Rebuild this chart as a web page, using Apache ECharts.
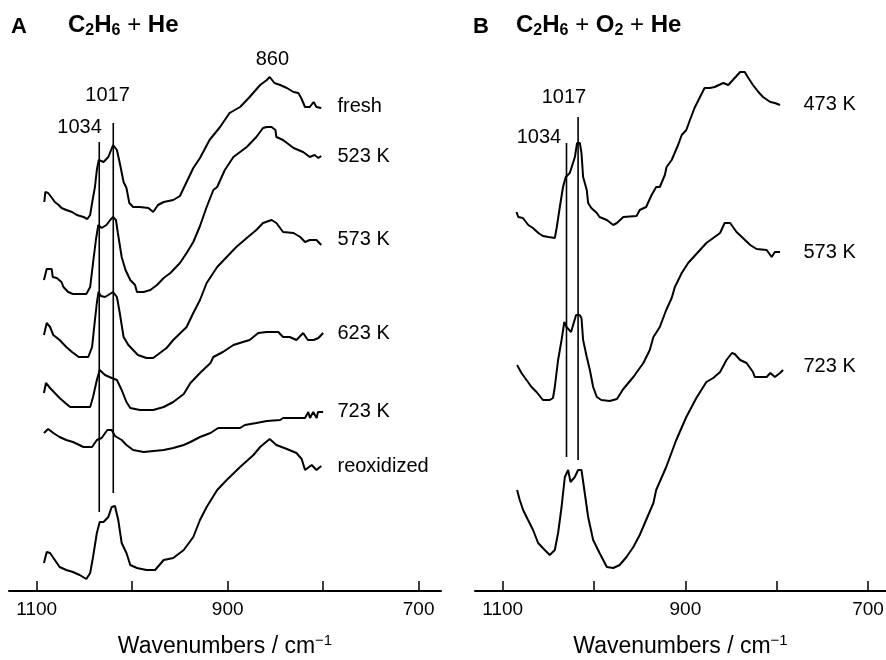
<!DOCTYPE html>
<html>
<head>
<meta charset="utf-8">
<script src="https://cdn.jsdelivr.net/npm/echarts@6/dist/echarts.min.js"></script>
<style>html,body{margin:0;padding:0;background:#fff}#c{width:886px;height:660px}</style>
</head>
<body>
<div id="c"></div>
<script>
// ---------- Panel A: C2H6 + He ----------
const freshW = [1092,1091,1088,1084,1081,1077,1074,1069,1063,1058,1051,1047,1044,1042,1039,1037,1035,1030,1025,1020,1016,1013,1009,1006,1003,999,992,983,978,973,967,957,950,943,936,929,919,908,898,887,877,866,859,856,851,845,838,831,826,823,819,814,810,807,802];
const freshA = [389,399,398,393,389,386,383,381,379,376,374,372,376,388,404,421,431,429,434,446,441,428,409,403,388,384,384,383,379,386,389,391,395,409,423,433,451,464,478,484,494,506,511,514,508,506,503,499,498,493,484,484,489,484,483];

const k523W = [1092.4,1089.5,1084.3,1083.2,1079,1074,1072,1067,1062,1048,1044,1041,1038,1035.5,1032,1027,1023,1020,1017,1015,1011,1007,1002,997,995,988,981,974,967,960,950,943,936,929,922,915,911,903,894,880,870,863,859,854,850,849,842,831,821,814,809,805,802];
const k523A = [311,322,322,314,313,309,304,299,297,297,304,328,351,366,363,366,371,374,371,358,334,321,311,306,299,299,301,306,313,318,328,338,349,365,384,401,404,421,434,444,454,463,464,464,461,454,451,443,439,434,436,433,435];

const k573W = [1092.4,1089.5,1086,1082.6,1076,1069,1063,1056,1046,1042,1039,1037,1035.3,1032.7,1028.5,1025,1020,1016,1013,1009,1004,999,994,985,978,971,964,957,943,936,929,922,911,901,891,880,870,863,854,849,842,831,824,819,814,807,802];
const k573A = [256,268,264,256,251,244,239,234,234,244,271,288,299,295,294,296,299,294,278,254,246,241,236,233,233,238,243,251,264,278,291,308,324,334,344,353,361,368,371,368,359,358,354,349,351,351,346];

const k623W = [1092.4,1090.3,1086,1081,1076,1070,1065,1044,1041,1037,1034,1028.5,1021.5,1016,1011,1006,1002,992,978,967,957,946,939,929,918,915,905,894,884,877,868,859,847,842,835,828,821,816,810,805,800];
const k623A = [198,208,203,198,193,188,184,184,194,211,221,216,213,211,201,189,183,181,181,184,189,197,208,218,228,234,239,246,249,251,258,259,259,254,254,251,258,251,251,253,258];

const k723W = [1092.4,1088,1082.6,1076,1069,1062,1051,1042,1037,1032,1026,1021.5,1018,1011,1006,999,988,967,957,946,939,929,918,910,887,882,870,859,845,842,819,815.6,813.8,810.4,806.8,805.4,800];
const k723A = [158,162,158,154,151,149,144,144,151,153,161,161,155,151,146,141,139,141,143,146,149,154,158,163,163,166,168,170,171,173,173,179,173,179,173,179,179];

const reoxW = [1092.4,1089.5,1086,1081,1076,1069,1062,1055,1048,1044,1041,1037,1034,1030,1025,1021.5,1018,1014.6,1011,1006,1002,995,985,976,967,957,946,936,929,922,911,901,887,873,866,856,849,838,828,822.5,819,812,807,802];
const reoxA = [28,39,38,31,24,21,19,16,12,18,34,58,69,69,74,84,85,71,48,38,26,23,21,21,31,33,41,54,71,84,101,111,124,136,144,152,146,142,138,132,121,126,121,125];

// ---------- Panel B: C2H6 + O2 + He ----------
const b473W = [1085,1083,1078,1072,1067,1061,1056,1050,1043,1041,1037.5,1034,1031,1026.6,1021,1018.6,1015.6,1013.8,1012,1008,1006.5,1003,997,994,986,979,975,968,953.5,950,943,937,932,928,922.5,920.6,915,908,904,899,895,890,884,879,873,868,858.5,853,848,840,835,831,826,820,815,807,802,796.4];
const b473A = [379,374,373,366,363,358,355,354,353,363,384,404,414,418,434,448,448,438,414,401,388,383,378,374,371,366,368,374,375,381,384,396,404,404,416,424,431,446,456,461,471,483,494,503,503,504,508,506,511,519,519,513,506,499,494,489,488,486];

const b573W = [1084.3,1079.5,1074,1068.5,1063,1056,1048.5,1045,1043,1039.4,1035.6,1032.6,1030.2,1025.2,1019.7,1015.9,1013.8,1012,1008,1004.6,1001,997,992,983,975,968,957,946,939,935,928,921,915,911.5,904,897,891,884,877,869.5,862,857,851,844,837,829,822,811,805.5,802,796.4];
const b573A = [226,218,211,204,199,191,191,193,204,231,251,269,264,259,276,276,273,251,234,221,204,194,191,190,192,202,214,228,241,254,264,281,293,304,318,328,334,341,348,353,358,368,368,359,353,346,342,341,334,339,339];

const b723W = [1084.3,1081.4,1077.7,1072.3,1066.8,1061.3,1054,1048.5,1043,1039.4,1035.6,1032,1028.4,1025.8,1021.1,1017.5,1013.8,1010.2,1006.5,1001,994,986,979,972,964.5,957,950,943,935,932,921,910,899,888,877,869.5,862,855,849,846,840,833,826,824,811,807,802,796.4,793];
const b723A = [101,91,81,71,61,48,41,36,41,58,84,114,121,109,114,121,121,98,74,51,38,24,23,26,34,44,56,71,88,101,124,151,174,193,209,213,219,231,238,237,231,228,219,214,214,218,214,218,221];

// curve names and label anchors
const leftNames = ['fresh','523 K','573 K','623 K','723 K','reoxidized'];
const leftNameW = [784.5, 784.5, 784.5, 784.5, 784.5, 784.5];
const leftNameA = [484, 434, 351, 257, 179, 124];
const rightNames = ['473 K','573 K','723 K'];
const rightNameW = [770.1, 770.1, 770.1];
const rightNameA = [486, 338, 224];

// peak marker lines (wavenumber, top, bottom)
const leftPeakW = [1034.5, 1019.8];
const leftPeakTop = [449, 468];
const leftPeakBottom = [79, 98];
const rightPeakW = [1030.2, 1017.5];
const rightPeakTop = [448, 474];
const rightPeakBottom = [134, 131];

// peak annotation texts
const leftAnnotText = ['860','1017','1034'];
const leftAnnotW = [852.6, 1025.3, 1054.6];
const leftAnnotA = [531, 495, 463];
const rightAnnotText = ['1017','1034'];
const rightAnnotW = [1032.4, 1059.8];
const rightAnnotA = [493, 453];

// axis ticks
const tickValues = [1100, 1000, 900, 800, 700];
const labelValues = [1100, 900, 700];

const FONT = '"Liberation Sans", Arial, Helvetica, sans-serif';

function zip(w, a) { return w.map((x, i) => [x, a[i]]); }

const leftCurves = [[freshW, freshA],[k523W,k523A],[k573W,k573A],[k623W,k623A],[k723W,k723A],[reoxW,reoxA]];
const rightCurves = [[b473W,b473A],[b573W,b573A],[b723W,b723A]];

const series = [];
function addCurve(wa, idx) {
  series.push({
    type: 'line', xAxisIndex: idx, yAxisIndex: idx,
    data: zip(wa[0], wa[1]), showSymbol: false, symbol: 'none', silent: true,
    lineStyle: { color: '#000', width: 2 }
  });
}
leftCurves.forEach(c => addCurve(c, 0));
rightCurves.forEach(c => addCurve(c, 1));

function addPeakLines(ws, tops, bots, idx) {
  ws.forEach((w, i) => {
    series.push({
      type: 'line', xAxisIndex: idx, yAxisIndex: idx, showSymbol: false, symbol: 'none', silent: true,
      data: [[w, tops[i]], [w, bots[i]]], lineStyle: { color: '#000', width: 1.6 }
    });
  });
}
addPeakLines(leftPeakW, leftPeakTop, leftPeakBottom, 0);
addPeakLines(rightPeakW, rightPeakTop, rightPeakBottom, 1);

function addText(texts, ws, as, idx, align) {
  series.push({
    type: 'scatter', xAxisIndex: idx, yAxisIndex: idx, symbolSize: 1, silent: true,
    itemStyle: { color: 'rgba(255,255,255,0)' },
    data: texts.map((t, i) => ({ value: [ws[i], as[i]], name: t })),
    label: { show: true, position: [0, 0], align: align, verticalAlign: 'middle',
      formatter: p => p.name, color: '#000', fontSize: 20, fontFamily: FONT, textBorderWidth: 0, opacity: 1 }
  });
}
addText(leftAnnotText, leftAnnotW, leftAnnotA, 0, 'center');
addText(rightAnnotText, rightAnnotW, rightAnnotA, 1, 'center');
addText(leftNames, leftNameW, leftNameA, 0, 'left');
addText(rightNames, rightNameW, rightNameA, 1, 'left');

function xAxisCfg(idx, min, max) {
  return {
    type: 'value', gridIndex: idx, min: min, max: max, inverse: true,
    axisLine: { show: true, lineStyle: { color: '#000', width: 2 } },
    axisTick: { show: true, inside: true, length: 10, customValues: tickValues, lineStyle: { color: '#000', width: 1.5 } },
    axisLabel: { show: true, customValues: labelValues, formatter: v => String(v), color: '#000', fontSize: 19, fontFamily: FONT, margin: 9 },
    splitLine: { show: false },
    name: 'Wavenumbers / cm{sup|−1}', nameLocation: 'middle', nameGap: 42,
    nameTextStyle: { color: '#000', fontSize: 23, fontFamily: FONT, lineHeight: 28,
      rich: { sup: { fontSize: 15, fontFamily: FONT, color: '#000', verticalAlign: 'top', lineHeight: 12 } } }
  };
}

const richTitle = {
  b: { fontSize: 24, fontWeight: 'bold', fontFamily: FONT, color: '#000', lineHeight: 28 },
  s: { fontSize: 16, fontWeight: 'bold', fontFamily: FONT, color: '#000', lineHeight: 11, verticalAlign: 'bottom' },
  p: { fontSize: 24, fontFamily: FONT, color: '#000', lineHeight: 28 }
};

const option = {
  animation: false,
  backgroundColor: '#fff',
  grid: [
    { left: 9, width: 432, top: 0, height: 591, outerBoundsMode: 'none', containLabel: false },
    { left: 475, width: 411, top: 0, height: 591, outerBoundsMode: 'none', containLabel: false }
  ],
  xAxis: [ xAxisCfg(0, 676.6, 1129), xAxisCfg(1, 680.3, 1130.4) ],
  yAxis: [
    { type: 'value', gridIndex: 0, min: 0, max: 591, show: false },
    { type: 'value', gridIndex: 1, min: 0, max: 591, show: false }
  ],
  graphic: [
    { type: 'text', left: 11, top: 16, style: { text: 'A', font: 'bold 22px ' + FONT, fill: '#000' } },
    { type: 'text', left: 68, top: 13, style: { text: '{b|C}{s|2}{b|H}{s|6}{p| + }{b|He}', rich: richTitle } },
    { type: 'text', left: 473, top: 16, style: { text: 'B', font: 'bold 22px ' + FONT, fill: '#000' } },
    { type: 'text', left: 516, top: 13, style: { text: '{b|C}{s|2}{b|H}{s|6}{p| + }{b|O}{s|2}{p| + }{b|He}', rich: richTitle } }
  ],
  series: series
};

const chart = echarts.init(document.getElementById('c'), null, { renderer: 'canvas' });
chart.setOption(option);
</script>
</body>
</html>
